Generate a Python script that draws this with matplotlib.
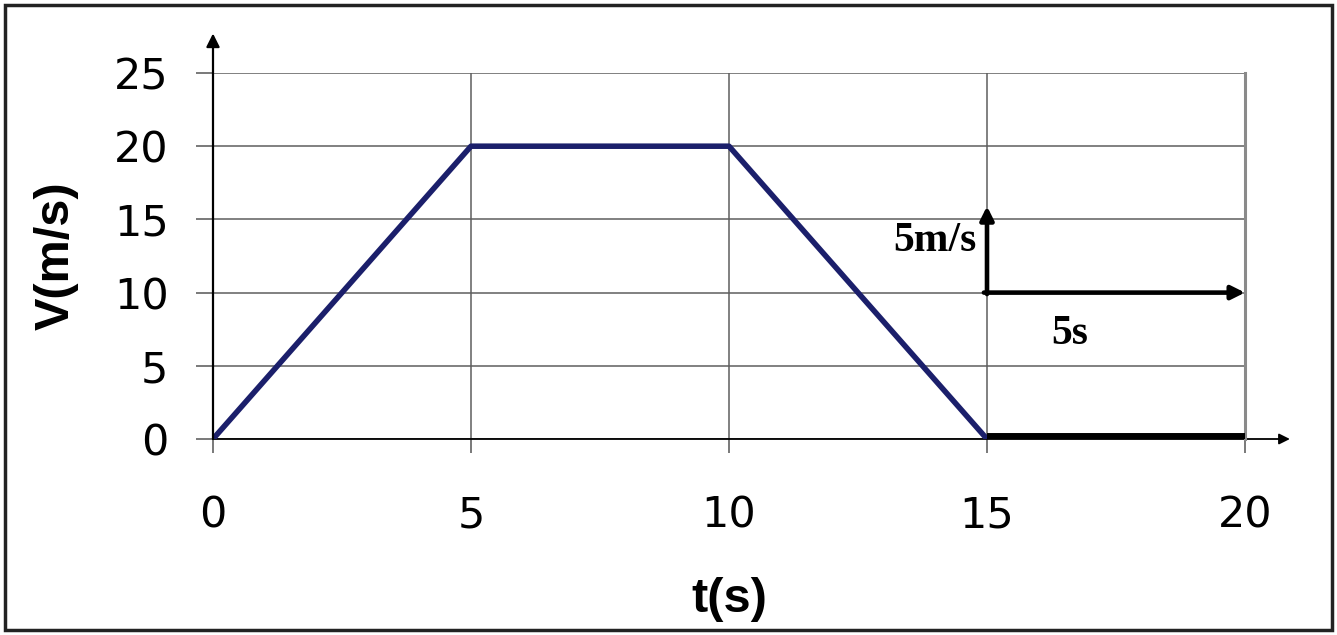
import matplotlib
matplotlib.use("Agg")
import matplotlib.pyplot as plt
from matplotlib.patches import Rectangle

# data
t_vals = [0, 5, 10, 15]
v_vals = [0, 20, 20, 0]
t_rest = [15, 20]
v_rest = [0, 0]
x_ticks = [0, 5, 10, 15, 20]
y_ticks = [0, 5, 10, 15, 20, 25]

fig = plt.figure(figsize=(13.37, 6.35), dpi=100)
ax = fig.add_axes([213/1337, 1-439/635, (1245-213)/1337, (439-73)/635])

ax.set_xlim(0, 20)
ax.set_ylim(0, 25)
ax.set_xticks(x_ticks)
ax.set_yticks(y_ticks)
ax.grid(True, color="#5e5e5e", linewidth=1.1)
ax.set_axisbelow(True)

ax.plot(t_vals, v_vals, color="#1b1f6b", linewidth=4.0, solid_capstyle="round", zorder=3)
ax.plot(t_rest, v_rest, color="black", linewidth=8.6, solid_capstyle="butt", zorder=3)

ax.spines["top"].set_visible(False)
ax.spines["right"].set_color("#8a8a8a")
ax.spines["right"].set_linewidth(2.2)
ax.spines["left"].set_visible(False)
ax.spines["bottom"].set_visible(False)

# axis arrows
ax.annotate("", xy=(0, 27.7), xytext=(0, 0), xycoords="data",
            arrowprops=dict(arrowstyle="-|>", color="black", lw=1.6, mutation_scale=20,
                            shrinkA=0, shrinkB=0),
            annotation_clip=False, zorder=4)
ax.annotate("", xy=(20.87, 0), xytext=(0, 0), xycoords="data",
            arrowprops=dict(arrowstyle="-|>", color="black", lw=1.3, mutation_scale=16,
                            shrinkA=0, shrinkB=0),
            annotation_clip=False, zorder=2)

# scale arrows
ax.annotate("", xy=(15, 15.9), xytext=(15, 9.9),
            arrowprops=dict(arrowstyle="-|>", color="black", lw=3.3, mutation_scale=20,
                            shrinkA=0, shrinkB=0), zorder=5)
ax.annotate("", xy=(20, 10), xytext=(14.94, 10),
            arrowprops=dict(arrowstyle="-|>", color="black", lw=3.3, mutation_scale=20,
                            shrinkA=0, shrinkB=0), zorder=5)
ax.text(14.8, 13.5, "5m/s", fontsize=30, fontweight="bold", family="Liberation Serif",
        ha="right", va="center")
ax.text(16.6, 7.2, "5s", fontsize=30, fontweight="bold", family="Liberation Serif",
        ha="center", va="center")

ax.tick_params(axis="both", labelsize=31, width=1.1, color="#555555")
ax.tick_params(axis="x", length=10, pad=30)
ax.tick_params(axis="y", length=12, pad=20)
for lbl in ax.get_xticklabels() + ax.get_yticklabels():
    lbl.set_family("DejaVu Sans")

fig.text(56/1337, 1-256/635, "V(m/s)", rotation=90, fontsize=35, fontweight="bold",
         family="Liberation Sans", ha="center", va="center")
fig.text(729/1337, 1-600/635, "t(s)", fontsize=35, fontweight="bold",
         family="Liberation Sans", ha="center", va="center")

# outer frame
fig.patches.append(Rectangle((5/1337, 5/635), 1-10/1337, 1-10/635, transform=fig.transFigure,
                             fill=False, edgecolor="#222222", linewidth=2.5))

fig.savefig("out.png", dpi=100)
